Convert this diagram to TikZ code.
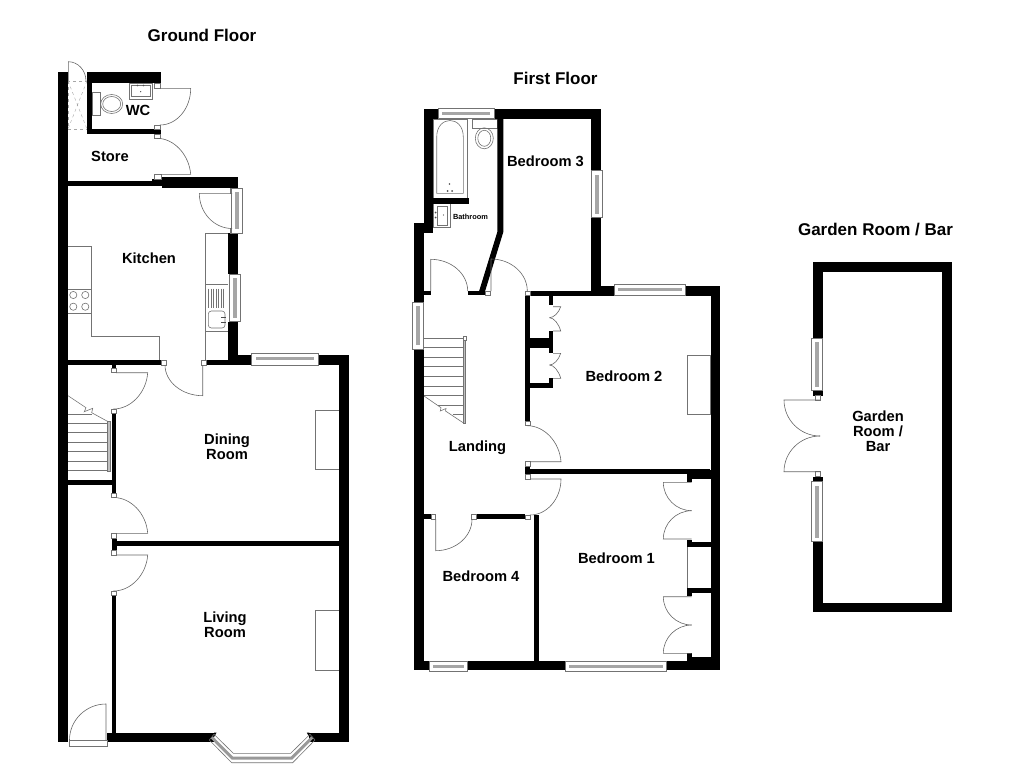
\documentclass[tikz,border=0pt]{standalone}
\usepackage{fontspec}
\setmainfont{Liberation Sans}
\begin{document}
\begin{tikzpicture}[x=1pt,y=-1pt]
	\tikzstyle{wall} = [fill=black]
	\tikzstyle{swing} = [draw=black!60, line width=0.6pt]
	\tikzstyle{fitting} = [draw=black!55, line width=0.6pt]
	\tikzstyle{jamb} = [draw=black!55, line width=0.5pt, fill=white]
	\tikzstyle{glass} = [fill=black!35]
	\tikzstyle{Title} = [font=\fontsize{17}{20}\selectfont\bfseries, align=center]
	\tikzstyle{Room} = [font=\fontsize{14.7}{15}\selectfont\bfseries, align=center]

	\useasboundingbox (0,0) rectangle (1024,768);

	% fittings under the walls
	\draw [fitting] (68,246.7) -- (91.7,246.7) -- (91.7,336.7) -- (159.3,336.7) -- (159.3,360);
	\draw [fitting] (68,289.3) -- (91.7,289.3) (68,313.3) -- (91.7,313.3);
	\foreach \cx/\cy in {73.3/295, 85.3/295, 73.3/306.7, 85.3/306.7}
		\draw [fitting] (\cx,\cy) circle (3.6);
	\draw [fitting] (228.3,233.3) -- (205,233.3) -- (205,360);
	\draw [fitting] (205,284.3) -- (228.3,284.3) (205,331.7) -- (228.3,331.7);
	\foreach \dx in {208.5,211,213.5,216,218.5,221,223.5}
		\draw [fitting, line width=0.4pt] (\dx,288.5) -- (\dx,308);
	\draw [fitting, rounded corners=3pt] (208.3,311) rectangle (225,328);
	\foreach \ty in {317.3,322.7}
		\draw [black!70, line width=1pt] (221,\ty) -- (226,\ty);
	\draw [fitting] (315.7,410) rectangle (339,469);
	\draw [fitting] (315.7,610.7) rectangle (339,670);
	\draw [fitting] (687.3,355) rectangle (710.7,414.3);
	\draw [fitting] (687.3,547.3) -- (687.3,588.3);

	% wc fittings
	\draw [fitting] (129,83.3) rectangle (152.3,99);
	\draw [fitting] (131.7,85.7) rectangle (150,96.7);
	\fill [black!70] (140.7,91.7) circle (0.7) (137.5,85.5) circle (0.9) (143.5,85.5) circle (0.9);
	\draw [fitting] (92.3,92.3) rectangle (100.7,115.7);
	\draw [fitting] (111.7,104) ellipse (11 and 9.5);
	\draw [fitting] (111.7,104) ellipse (9 and 7.5);
	\draw [black!35, dashed, line width=0.4pt] (68,81) rectangle (87,129);
	\draw [black!35, dashed, line width=0.4pt] (68,81) -- (87,129) (87,81) -- (68,129);

	% bathroom fittings
	\draw [fitting] (433.3,119.3) rectangle (467.3,198.3);
	\draw [fitting] (436.7,193.3) -- (436.7,137) .. controls (436.7,115) and (463.3,115) .. (463.3,137) -- (463.3,193.3) -- cycle;
	\fill [black!70] (449.5,184) circle (0.9) (447.5,191) circle (1) (452,191) circle (1);
	\draw [fitting] (472.3,119.3) rectangle (497.3,128.3);
	\draw [fitting] (484.3,138.3) ellipse (9 and 10.5);
	\draw [fitting] (484.3,138.3) ellipse (6.5 and 8);
	\draw [fitting] (433.3,203.7) rectangle (450.7,227.3);
	\draw [fitting] (437.7,206) rectangle (447.7,225);
	\fill [black!70] (443.5,215) circle (0.7) (435.5,212.5) circle (1) (435.5,217.5) circle (1);

	% ground floor stairs
	\foreach \sy in {423.3,432.3,442.3,451.7,461,470.7}
		\draw [fitting] (68,\sy) -- (107.3,\sy);
	\draw [fitting] (68,414) -- (92,414);
	\draw [fitting] (68,395.7) -- (86,407.7) -- (84.3,411.7) -- (92.7,408.3) -- (91.7,412.7) -- (110,422.7);
	\draw [jamb, fill=black!25] (107.3,421.7) rectangle (110.5,471.7);

	% first floor stairs
	\foreach \sy in {338.3,347.7,357.3,366.7,376.7,386,395.3}
		\draw [fitting] (424,\sy) -- (463.3,\sy);
	\draw [fitting] (438,405) -- (463.3,405) (453,414.3) -- (463.3,414.3);
	\draw [fitting] (424,396) -- (441,407.7) -- (440.3,411) -- (446,408.5) -- (445.5,411) -- (464,423.3);
	\draw [jamb, fill=black!25] (463.3,338.3) rectangle (465.7,423.3);
	\draw [jamb] (463.3,336.7) rectangle (466,340);

	% walls, ground floor
	\foreach \xa/\ya/\xb/\yb in {
		58.3/72.3/68.3/742.3, 87.3/72.3/161.3/83.3, 87.3/72.3/92.3/134.3, 87.3/129/161.3/134.3,
		68/181/152/186.3, 152/179/162/186.3, 162/176.5/238.2/187.7,
		228.3/233/238.3/274, 228.3/321.7/238.3/361.6,
		68/360/161/365, 206.7/360/251.7/365, 238/355.3/251.7/365, 318.3/355.3/349/365,
		339/355.3/349/742.3,
		111.7/365/116/368, 111.7/413/116/493.3, 68/480/113.3/485, 111.7/538.3/116.7/550.7,
		116.7/541/339.3/546, 111.7/595.7/116/733,
		107.3/732.7/214/742.3, 309.3/732.7/349/742.3}
		\fill [wall] (\xa,\ya) rectangle (\xb,\yb);
	\fill [wall] (214,732.7) -- (216.5,732.7) -- (214,737) -- cycle;
	\fill [wall] (309.3,732.7) -- (306.8,732.7) -- (309.3,737) -- cycle;

	% walls, first floor
	\foreach \xa/\ya/\xb/\yb in {
		424/109.3/438.3/119.3, 494/109.3/601/119.3, 591/109.3/601/295.7,
		424/109.3/433.3/233.3, 414/223.3/424/302.3, 414/349.3/424/670,
		433.3/198.3/469/203.7, 467.7/291/485/295, 424/291/430.7/295,
		530/290.7/591.7/295.7, 591/285.7/614.3/295.7, 685.7/285.7/720/295.7, 710.7/285.7/720/670,
		525/295.7/530/421, 525/290.7/530.5/295.7, 525/466/530/474.3, 530/469.3/710/474.3,
		686.7/470/710.7/479, 686.7/470/691.7/481.7,
		548.7/295.7/553.3/305, 548.7/331/553.3/353.3, 548.7/378.3/553.3/387.7,
		530/337.7/553.3/348.3, 530/382.7/553.3/387.7,
		424/514.3/431/519.3, 476.7/514.3/525/519.3, 534/515/538.7/661.7,
		414/660.7/429/670, 467.7/660.7/565/670, 666.7/660.7/720/670,
		687/542.3/710.7/547.3, 687/540/691.7/547.3, 687/588.3/710.7/593.3, 687/588/691.7/595.7,
		687/653.3/691.7/661.7, 691.7/656.7/710.7/661.7}
		\fill [wall] (\xa,\ya) rectangle (\xb,\yb);
	\fill [wall] (497.3,119) -- (503.3,119) -- (503.3,232) -- (485,291.5) -- (479,291.5) -- (497.3,232) -- cycle;

	% walls, garden room
	\foreach \xa/\ya/\xb/\yb in {
		812.7/262.3/952/272.3, 942.3/262.3/952/612.3, 812.7/602.7/952/612.3,
		812.7/262.3/822.7/338.3, 812.7/541.7/822.7/612.3,
		813/390.7/822.7/395.7, 813/476.7/822.7/481.7}
		\fill [wall] (\xa,\ya) rectangle (\xb,\yb);

	% small white posts at the door openings
	\foreach \xa/\ya/\xb/\yb in {
		154.3/83.3/160.3/88.3, 154.3/125/160.3/129, 154.3/134.3/160.3/138.3, 154.3/174.3/161.7/179,
		230/188/235.5/193.5, 230/228/235/233, 161/360/166.7/365, 201.7/360/206.7/365,
		111.7/368/116/372.7, 111.7/409/116/413, 111.7/493.3/116/497.5, 111.7/533/116.7/538.3,
		111.7/550.7/116.7/555, 111.7/591.7/116/595.7,
		485/291/490/295, 525/291/530/295.7, 525/421/530/425.7, 525/461.7/530/466, 525/474.3/530/479.3,
		431/514.3/435.7/519.3, 471.7/514.3/476.7/519.3, 525/515/530/519.3,
		815/395.7/820.5/400, 815/471.7/820.5/476.7}
		\draw [jamb] (\xa,\ya) rectangle (\xb,\yb);

	% upright and level windows
	\foreach \xa/\ya/\xb/\yb in {
		231/188/242.3/233, 229/274/240/321.7, 591.7/170.7/602.7/217.7, 412.3/302.3/423.3/349.3,
		811/338.3/822.7/390.7, 811/481.7/822.7/541.7} {
		\draw [jamb] (\xa,\ya) rectangle (\xb,\yb);
		\fill [glass] (\xa+3.5,\ya+4) rectangle (\xb-3.5,\yb-4);
	}
	\foreach \xa/\ya/\xb/\yb in {
		251.7/353.3/318.3/365, 438.3/108.3/494/118.3, 614.3/284.3/685.7/295,
		429/661/467.7/671.7, 565/661/666.7/671.7} {
		\draw [jamb] (\xa,\ya) rectangle (\xb,\yb);
		\fill [glass] (\xa+4,\ya+3.5) rectangle (\xb-4,\ya+6.5);
	}

	% bay window
	\draw [black!40, line width=3pt] (211.7,737.3) -- (232.3,758) -- (291.7,758) -- (312.3,737.3);
	\draw [fitting] (209.3,740) -- (231.7,762.7) -- (292.7,762.7) -- (315,740);
	\draw [fitting] (214,734.3) -- (233.3,753.3) -- (290.7,753.3) -- (310,734.3);
	\draw [fitting] (209.3,740) -- (214,734.3) (315,740) -- (310,734.3);

	% front door sill
	\draw [jamb] (69,740) rectangle (107.3,746);

	% doors: hinge / tip of leaf / end of swing
	\foreach \hx/\hy/\tx/\ty/\ex/\ey in {
		68.3/81/68.3/61.7/86/81,
		160/88.3/190.7/88.3/160/125,
		160/174.3/190.7/174.3/157/138.3,
		232/193.3/199.3/193.3/232/228.5,
		202.7/365/202.7/395.7/165/365,
		116/372.7/147.7/372.7/113.5/409,
		116/533.3/147.7/533.3/113.5/497.5,
		116/555/147.7/555/113.5/591,
		106/740/106/704/69.5/740,
		430.7/291/430.7/259.3/467.7/291,
		491/291/491/259/527.3/291,
		530/461.7/561/461.7/527.3/425.7,
		530/479/561/479/530/515,
		435.7/519.3/435.7/550.7/472/519.3,
		553/306.7/560.7/306.7/549.5/317.7,
		553/331/560.7/331/549.5/317.7,
		553/353.3/560.7/353.3/549.5/365,
		553/378.3/560.7/378.3/549.5/365,
		691.7/482.3/663.3/482.3/691.7/510.7,
		691.7/539/663.3/539/691.7/510.7,
		691.7/596.7/663.3/596.7/691.7/625,
		691.7/653.3/663.3/653.3/691.7/625,
		820/400/784/400/820/436,
		820/471.7/784/471.7/820/436}
		\draw [swing] (\hx,\hy) -- (\tx,\ty) .. controls (\tx+.55*\ex-.55*\hx,\ty+.55*\ey-.55*\hy) and (\ex+.55*\tx-.55*\hx,\ey+.55*\ty-.55*\hy) .. (\ex,\ey);

	% titles and room names
	\node (ground) [Title] at (202,35) {Ground Floor};
	\node (first) [Title] at (555.5,78.5) {First Floor};
	\node (garden) [Title] at (875.5,230) {Garden Room / Bar};
	\node (wc) [Room] at (138,110) {WC};
	\node (store) [Room] at (110,156) {Store};
	\node (kitchen) [Room] at (149,258) {Kitchen};
	\node (dining) [Room] at (227,447) {Dining\\Room};
	\node (living) [Room] at (225,625) {Living\\Room};
	\node (bed3) [Room] at (545.5,161) {Bedroom 3};
	\node (bath) [font=\fontsize{7.4}{8}\selectfont\bfseries] at (470.5,217) {Bathroom};
	\node (bed2) [Room] at (624,376) {Bedroom 2};
	\node (landing) [Room] at (477.5,447.5) {Landing};
	\node (bed4) [Room] at (481,576) {Bedroom 4};
	\node (bed1) [Room] at (616.5,558) {Bedroom 1};
	\node (bar) [Room] at (878,431) {Garden\\Room /\\Bar};
\end{tikzpicture}
\end{document}
